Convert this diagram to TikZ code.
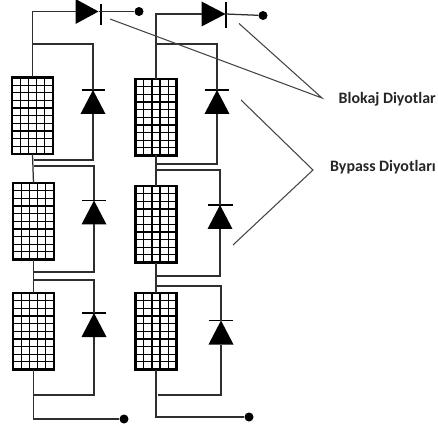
\documentclass[tikz,border=0pt]{standalone}
\usepackage{fontspec}
\setmainfont{Carlito}
\usetikzlibrary{shapes.geometric,calc}
\definecolor{wirec}{HTML}{2e2e2e}
\definecolor{leadc}{HTML}{444444}
\tikzset{
  wire/.style={draw=wirec,line width=1.25pt},
  leader/.style={draw=leadc,line width=1.05pt},
  dotnode/.style={circle,fill=black,inner sep=0pt,minimum size=9pt},
  diodebar/.style={draw=black,line width=1.1pt},
  tri/.style={isosceles triangle,isosceles triangle stretches,fill=black,inner sep=0pt,outer sep=0pt,
     minimum height=24pt,minimum width=25pt,anchor=apex},
  triup/.style={tri,shape border rotate=90},
  triright/.style={tri,shape border rotate=0},
  lbl/.style={font=\bfseries\fontsize{15.9}{18}\selectfont,text=black!85,inner sep=0pt,anchor=west},
  panel/.style={draw=black,line width=2.6pt,fill=white,minimum width=41pt,minimum height=76.5pt,inner sep=0pt,outer sep=0pt,anchor=north west,
    path picture={
      \foreach \i in {1,...,4}{\draw[black,line width=1.25pt]
        ($(path picture bounding box.south west)!\i/5!(path picture bounding box.south east)$)
        -- ($(path picture bounding box.north west)!\i/5!(path picture bounding box.north east)$);}
      \foreach \i in {1,...,9}{\draw[black,line width=1.25pt]
        ($(path picture bounding box.south west)!\i/10!(path picture bounding box.north west)$)
        -- ($(path picture bounding box.south east)!\i/10!(path picture bounding box.north east)$);}
    }},
}
\begin{document}
\begin{tikzpicture}[x=1pt,y=-1pt]
\useasboundingbox (0,0) rectangle (438,427);
\fill[white] (0,0) rectangle (438,427);

% panels
\node[panel] (pa1) at (12,77.5) {};
\node[panel] (pa2) at (13,183) {};
\node[panel] (pa3) at (13,293) {};
\node[panel] (pb1) at (135.5,79) {};
\node[panel] (pb2) at (135.5,186) {};
\node[panel] (pb3) at (135.5,293) {};

% blocking diodes
\node[triright,minimum height=23pt] (ba) at (98.5,11.5) {};
\node[triright,minimum height=24pt] (bb) at (225.5,14) {};
\coordinate (baT) at (101,4); \coordinate (baB) at (101,25);
\coordinate (bbT) at (226,2); \coordinate (bbB) at (226,28);
\draw[diodebar] (baT) -- (baB);
\draw[diodebar] (bbT) -- (bbB);
\node[dotnode] (da) at (139,11.5) {};
\node[dotnode] (db) at (263,15.5) {};
\node[dotnode] (dc) at (124,419) {};
\node[dotnode] (dd) at (249,417) {};

% bypass diodes
\foreach \n/\x/\y/\w in {a1/93/90/22,a2/94/200.5/23,a3/94/313/23,b1/217/90/23,b2/220/205/24,b3/221/320.5/23}{
  \node[triup] (t\n) at (\x,\y) {};
  \coordinate (bl\n) at ($(\x,\y)+(-.5*\w-.5,0)$);
  \coordinate (br\n) at ($(\x,\y)+(.5*\w+.5,0)$);
  \draw[diodebar] (bl\n) -- (br\n);
}

% junctions, left string
\coordinate (ja1) at (33,44);
\coordinate (ja2) at (34,160);
\coordinate (ja3) at (34,166);
\coordinate (ja4) at (34,272);
\coordinate (ja5) at (33,280);
\coordinate (ja6) at (33,395);
% junctions, right string
\coordinate (jb1) at (157,44);
\coordinate (jb2) at (157,164);
\coordinate (jb3) at (157,170);
\coordinate (jb4) at (157,276);
\coordinate (jb5) at (157,286);
\coordinate (jb6) at (158,395);

% left string wires
\draw[wire] (pa1.north) |- (ba.west);
\draw[wire] (ba.apex) -- (da);
\draw[wire] (ja1) -| (ta1.apex);
\draw[wire] (ta1.lower side) |- (ja2);
\draw[wire] (pa1.south) -- (pa2.north);
\draw[wire] (ja3) -| (ta2.apex);
\draw[wire] (ta2.lower side) |- (ja4);
\draw[wire] (pa2.south) -- (pa3.north);
\draw[wire] (ja5) -| (ta3.apex);
\draw[wire] (ta3.lower side) |- (ja6);
\draw[wire] (pa3.south) |- (dc);

% right string wires
\draw[wire] (pb1.north) |- (bb.west);
\draw[wire] (bb.apex) -- (db);
\draw[wire] (jb1) -| (tb1.apex);
\draw[wire] (tb1.lower side) |- (jb2);
\draw[wire] (pb1.south) -- (pb2.north);
\draw[wire] (jb3) -| (tb2.apex);
\draw[wire] (tb2.lower side) |- (jb4);
\draw[wire] (pb2.south) -- (pb3.north);
\draw[wire] (jb5) -| (tb3.apex);
\draw[wire] (tb3.lower side) |- (jb6);
\draw[wire] (pb3.south) |- (dd);

% leaders
\coordinate (l1a) at (110,19);
\coordinate (l1b) at (239,23.5);
\coordinate (l1c) at (322,98);
\coordinate (l2a) at (241,100);
\coordinate (l2b) at (313,170);
\coordinate (l2c) at (233,245);
\draw[leader] (l1a) -- (l1c) -- (l1b);
\draw[leader] (l2a) -- (l2b) -- (l2c);

\node[lbl] (t1) at (338.5,99) {Blokaj Diyotlar};
\node[lbl] (t2) at (330,167) {Bypass Diyotları};
\end{tikzpicture}
\end{document}
